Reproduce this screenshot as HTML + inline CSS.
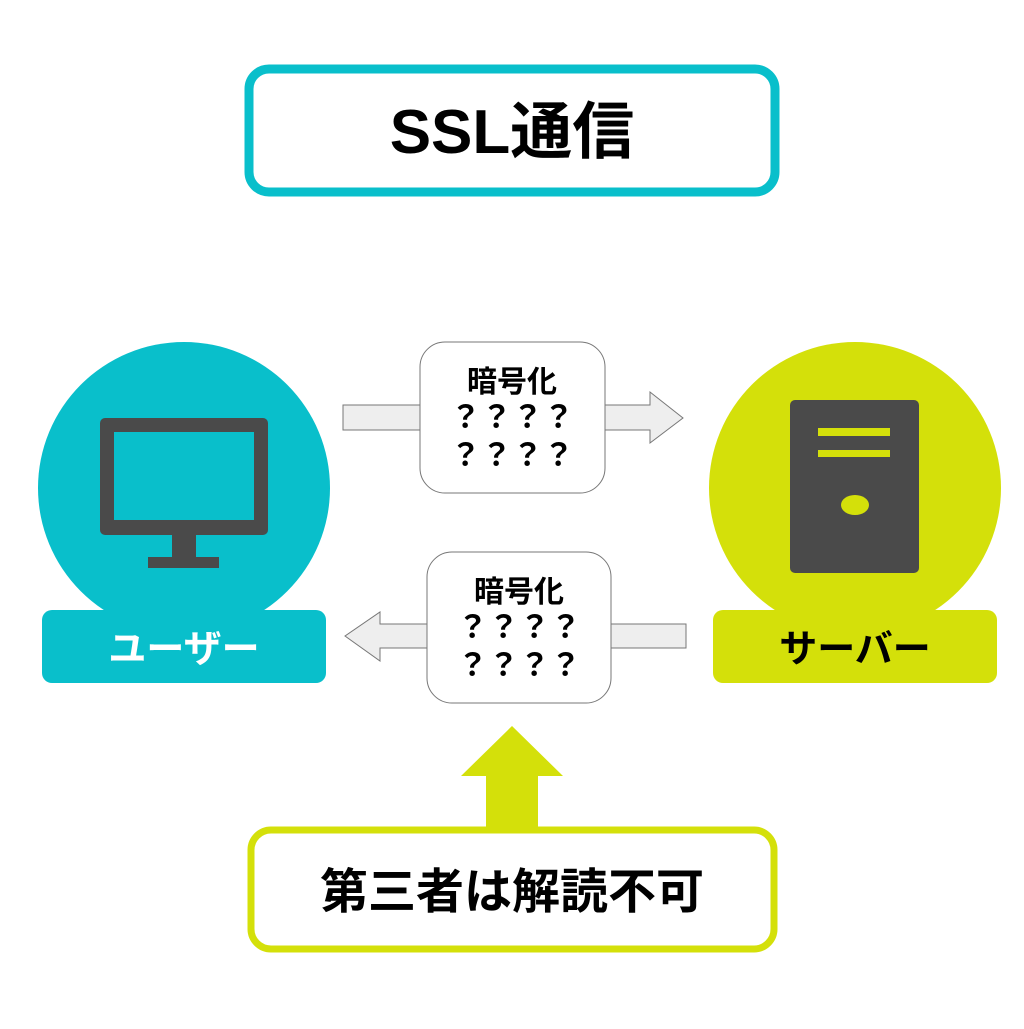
<!DOCTYPE html>
<html><head><meta charset="utf-8"><style>
body{margin:0;background:#fff}
svg text{font-family:"Liberation Sans","Noto Sans CJK JP",sans-serif;font-weight:bold}
</style></head><body>
<svg width="1024" height="1024" viewBox="0 0 1024 1024" xmlns="http://www.w3.org/2000/svg">
<rect x="249" y="69" width="526" height="123" rx="20" fill="#fff" stroke="#09bfcb" stroke-width="9"/>
<text x="512" y="153" font-size="62" text-anchor="middle" fill="#000">SSL通信</text>

<circle cx="184" cy="488" r="146" fill="#09bfcb"/>
<rect x="100" y="418" width="168" height="117" rx="5" fill="#4a4a4a"/>
<rect x="114" y="432" width="140" height="88" fill="#09bfcb"/>
<rect x="172" y="534" width="24" height="24" fill="#4a4a4a"/>
<rect x="148" y="557" width="71" height="11" fill="#4a4a4a"/>
<rect x="42" y="610" width="284" height="73" rx="10" fill="#09bfcb"/>
<text x="184" y="662" font-size="38" text-anchor="middle" fill="#fff">ユーザー</text>

<circle cx="855" cy="488" r="146" fill="#d4e00a"/>
<rect x="790" y="400" width="129" height="173" rx="5" fill="#4a4a4a"/>
<rect x="818" y="428" width="72" height="8" fill="#d4e00a"/>
<rect x="818" y="450" width="72" height="7" fill="#d4e00a"/>
<ellipse cx="855" cy="505" rx="14" ry="10" fill="#d4e00a"/>
<rect x="713" y="610" width="284" height="73" rx="10" fill="#d4e00a"/>
<text x="855" y="662" font-size="38" text-anchor="middle" fill="#000">サーバー</text>

<polygon points="343,405 650,405 650,392 683,418 650,443 650,430 343,430" fill="#eeeeee" stroke="#777" stroke-width="1"/>
<rect x="420" y="342" width="185" height="151" rx="25" fill="#fff" stroke="#777" stroke-width="1"/>
<text x="512" y="392" font-size="30" text-anchor="middle">暗号化</text>
<text x="512" y="428" font-size="31" text-anchor="middle">？？？？</text>
<text x="512" y="466" font-size="31" text-anchor="middle">？？？？</text>

<polygon points="686,624 380,624 380,612 345,636 380,661 380,648 686,648" fill="#eeeeee" stroke="#777" stroke-width="1"/>
<rect x="427" y="552" width="184" height="151" rx="25" fill="#fff" stroke="#777" stroke-width="1"/>
<text x="519" y="602" font-size="30" text-anchor="middle">暗号化</text>
<text x="519" y="638" font-size="31" text-anchor="middle">？？？？</text>
<text x="519" y="676" font-size="31" text-anchor="middle">？？？？</text>

<polygon points="512,726 563,776 538,776 538,832 486,832 486,776 461,776" fill="#d4e00a"/>
<rect x="251" y="830" width="523" height="119" rx="20" fill="#fff" stroke="#d4e00a" stroke-width="7"/>
<text x="512" y="908" font-size="48" text-anchor="middle" fill="#000">第三者は解読不可</text>
</svg>
</body></html>
